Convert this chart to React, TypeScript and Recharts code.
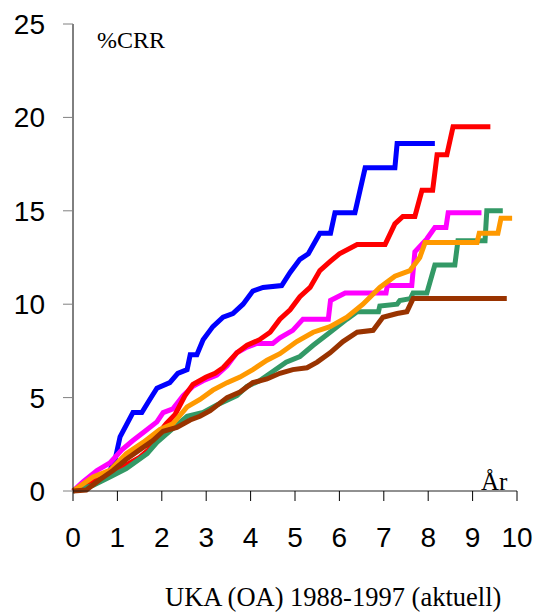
import { LineChart, Line, XAxis, YAxis } from 'recharts';

// cumulative revision rate curves, [year, %CRR]
const blue = [
  [0, 0], [0.45, 0.6], [0.83, 1.1], [0.95, 1.7], [1.06, 2.9], [1.35, 4.2], [1.55, 4.2], [1.73, 4.9],
  [1.89, 5.5], [2.18, 5.8], [2.36, 6.3], [2.57, 6.5], [2.64, 7.3], [2.79, 7.3], [2.93, 8.1], [3.15, 8.8],
  [3.38, 9.3], [3.6, 9.5], [3.83, 10.0], [4.05, 10.7], [4.28, 10.9], [4.7, 11.0], [4.89, 11.7],
  [5.11, 12.4], [5.3, 12.7], [5.56, 13.8], [5.8, 13.8], [5.9, 14.9], [6.35, 14.9], [6.58, 17.3],
  [7.25, 17.3], [7.3, 18.6], [8.15, 18.6],
];
const red = [
  [0, 0], [0.38, 0.4], [0.83, 0.9], [1.2, 1.4], [1.5, 1.8], [1.7, 2.2], [1.9, 3.0], [2.1, 3.6],
  [2.3, 4.1], [2.52, 5.1], [2.7, 5.7], [3.0, 6.1], [3.2, 6.3], [3.38, 6.6], [3.69, 7.4], [3.92, 7.8],
  [4.2, 8.1], [4.44, 8.5], [4.66, 9.2], [4.89, 9.7], [5.11, 10.4], [5.34, 10.9], [5.56, 11.8],
  [5.8, 12.3], [6.0, 12.7], [6.4, 13.2], [7.03, 13.2], [7.25, 14.3], [7.43, 14.7], [7.7, 14.7],
  [7.86, 16.1], [8.1, 16.1], [8.2, 18.0], [8.42, 18.0], [8.56, 19.5], [9.4, 19.5],
];
const magenta = [
  [0, 0], [0.23, 0.5], [0.54, 1.1], [0.83, 1.5], [1.1, 2.2], [1.35, 2.7], [1.62, 3.2], [1.89, 3.7],
  [2.03, 4.2], [2.25, 4.4], [2.48, 5.1], [2.7, 5.6], [2.93, 5.9], [3.24, 6.2], [3.47, 6.7], [3.69, 7.4],
  [3.92, 7.7], [4.14, 7.9], [4.5, 7.9], [4.66, 8.2], [4.95, 8.6], [5.18, 9.2], [5.75, 9.2], [5.8, 10.2],
  [6.13, 10.6], [7.05, 10.6], [7.08, 11.0], [7.63, 11.0], [7.7, 12.8], [7.97, 13.5], [8.15, 14.1],
  [8.4, 14.1], [8.45, 14.9], [9.2, 14.9],
];
const green = [
  [0, 0], [0.45, 0.3], [0.83, 0.75], [1.2, 1.2], [1.67, 2.0], [1.89, 2.6], [2.18, 3.2], [2.57, 4.0],
  [2.93, 4.2], [3.24, 4.6], [3.69, 5.1], [3.92, 5.6], [4.2, 5.9], [4.5, 6.4], [4.8, 6.9], [5.11, 7.2],
  [5.41, 7.8], [5.79, 8.5], [6.17, 9.2], [6.4, 9.6], [6.88, 9.6], [6.91, 9.9], [7.3, 10.0], [7.36, 10.2],
  [7.6, 10.3], [7.66, 10.6], [7.97, 10.6], [8.15, 12.1], [8.6, 12.1], [8.67, 13.4], [9.28, 13.4],
  [9.32, 15.0], [9.68, 15.0],
];
const orange = [
  [0, 0], [0.45, 0.75], [0.83, 1.1], [1.2, 2.0], [1.58, 2.6], [1.96, 3.3], [2.25, 3.6], [2.57, 4.5],
  [2.86, 4.9], [3.15, 5.4], [3.47, 5.8], [3.76, 6.1], [4.05, 6.5], [4.37, 7.0], [4.66, 7.35], [5.04, 8.0],
  [5.41, 8.5], [5.79, 8.8], [6.17, 9.3], [6.53, 10.0], [6.91, 10.9], [7.25, 11.5], [7.59, 11.8],
  [7.81, 12.5], [7.93, 13.3], [9.1, 13.3], [9.15, 13.8], [9.57, 13.8], [9.64, 14.6], [9.89, 14.6],
];
const brown = [
  [0, 0], [0.3, 0.05], [0.6, 0.6], [0.9, 1.1], [1.2, 1.7], [1.5, 2.2], [1.8, 2.7], [2.03, 3.2],
  [2.34, 3.4], [2.64, 3.8], [2.86, 4.0], [3.09, 4.3], [3.47, 5.0], [3.76, 5.3], [4.05, 5.8], [4.37, 6.0],
  [4.66, 6.3], [4.95, 6.5], [5.27, 6.6], [5.5, 6.9], [5.79, 7.4], [6.08, 8.0], [6.4, 8.5], [6.76, 8.6],
  [6.98, 9.3], [7.3, 9.5], [7.52, 9.6], [7.66, 10.3], [9.77, 10.3],
];

const xTicks = [0, 1, 2, 3, 4, 5, 6, 7, 8, 9, 10];
const yTicks = [0, 5, 10, 15, 20, 25];

const series = [
  { name: 'blue', points: blue, color: '#0000ff' },
  { name: 'magenta', points: magenta, color: '#ff00ff' },
  { name: 'red', points: red, color: '#ff0000' },
  { name: 'green', points: green, color: '#339966' },
  { name: 'orange', points: orange, color: '#ff9900' },
  { name: 'brown', points: brown, color: '#993300' },
];

const serif = '"Liberation Serif", "Times New Roman", serif';
const sans = '"Liberation Sans", Arial, sans-serif';

export default function App() {
  return (
    <div style={{ position: 'absolute', left: 0, top: 0, width: 535, height: 612, background: '#fff' }}>
      <LineChart width={535} height={612} margin={{ top: 24, right: 18, bottom: 61, left: 0 }}>
        <XAxis
          type="number"
          dataKey="x"
          domain={[0, 10]}
          ticks={xTicks}
          height={60}
          tickSize={10}
          tickMargin={26}
          axisLine={{ stroke: '#222' }}
          tickLine={{ stroke: '#000' }}
          tick={{ fill: '#000', fontSize: 28, fontFamily: sans }}
        />
        <YAxis
          type="number"
          domain={[0, 25]}
          ticks={yTicks}
          width={73}
          tickSize={10}
          tickMargin={18}
          axisLine={{ stroke: '#000' }}
          tickLine={{ stroke: '#808080' }}
          tick={{ fill: '#000', fontSize: 28, fontFamily: sans }}
        />
        {series.map((s) => (
          <Line
            key={s.name}
            data={s.points.map(([x, y]) => ({ x, y }))}
            dataKey="y"
            type="linear"
            stroke={s.color}
            strokeWidth={5}
            dot={false}
            activeDot={false}
            isAnimationActive={false}
          />
        ))}
      </LineChart>
      <div style={{ position: 'absolute', left: 97, top: 28, fontFamily: serif, fontSize: 24, lineHeight: 1, whiteSpace: 'nowrap' }}>
        %CRR
      </div>
      <div style={{ position: 'absolute', left: 481, top: 469, fontFamily: serif, fontSize: 25, lineHeight: 1, whiteSpace: 'nowrap' }}>
        År
      </div>
      <div style={{ position: 'absolute', left: 165, top: 584, fontFamily: serif, fontSize: 26.5, lineHeight: 1, whiteSpace: 'nowrap' }}>
        UKA (OA) 1988-1997 (aktuell)
      </div>
    </div>
  );
}
